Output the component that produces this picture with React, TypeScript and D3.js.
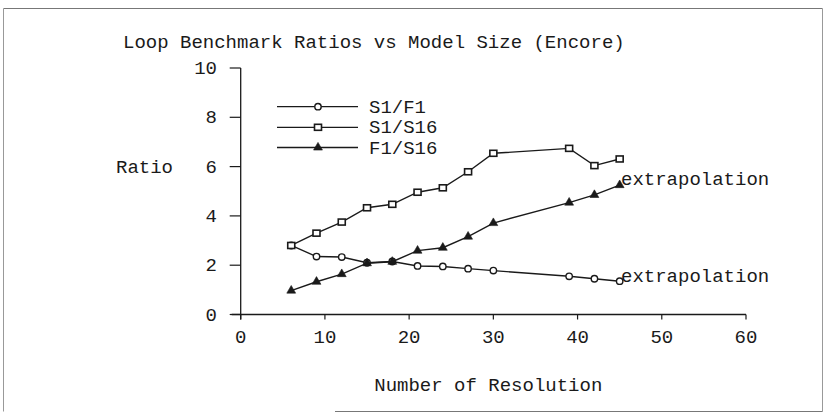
import React from "react";
import * as d3 from "d3";

const xValues = [6, 9, 12, 15, 18, 21, 24, 27, 30, 39, 42, 45];
const s1f1 = [2.8, 2.35, 2.33, 2.1, 2.15, 1.97, 1.95, 1.86, 1.78, 1.55, 1.45, 1.35];
const s1s16 = [2.8, 3.3, 3.75, 4.33, 4.47, 4.96, 5.14, 5.79, 6.54, 6.74, 6.04, 6.31];
const f1s16 = [0.97, 1.33, 1.64, 2.08, 2.14, 2.59, 2.71, 3.16, 3.71, 4.54, 4.85, 5.25];
const seriesNames = ["S1/F1", "S1/S16", "F1/S16"];
const xTicks = [0, 10, 20, 30, 40, 50, 60];
const yTicks = [0, 2, 4, 6, 8, 10];
const title = "Loop Benchmark Ratios vs Model Size (Encore)";
const xTitle = "Number of Resolution";
const yTitle = "Ratio";
const annotation = "extrapolation";

const W = 827;
const H = 415;
const FONT = "'Liberation Mono', 'Courier New', monospace";
const INK = "#1a1a1a";

function Marker({ kind, x, y }: { kind: string; x: number; y: number }) {
  if (kind === "circle") {
    return <circle cx={x} cy={y} r={3.2} fill="#fff" stroke={INK} strokeWidth={1.4} />;
  }
  if (kind === "square") {
    return <rect x={x - 3.5} y={y - 3} width={7} height={6} fill="#fff" stroke={INK} strokeWidth={1.6} />;
  }
  const p = d3.symbol().type(d3.symbolTriangle).size(34)();
  return <path d={p || ""} transform={`translate(${x},${y})`} fill={INK} stroke={INK} strokeWidth={0.6} />;
}

export default function App() {
  const x = d3.scaleLinear().domain([0, 60]).range([240.7, 746]);
  const y = d3.scaleLinear().domain([0, 10]).range([314.5, 68]);
  const line = d3
    .line<[number, number]>()
    .x((d) => x(d[0]))
    .y((d) => y(d[1]));

  const series = [
    { name: seriesNames[0], values: s1f1, kind: "circle" },
    { name: seriesNames[1], values: s1s16, kind: "square" },
    { name: seriesNames[2], values: f1s16, kind: "triangle" },
  ];

  const legendY = [106.7, 127.3, 147.5];

  return (
    <svg
      width={W}
      height={H}
      style={{ position: "absolute", left: 0, top: 0, background: "#fff" }}
      fontFamily={FONT}
    >
      <rect x={0} y={0} width={W} height={H} fill="#fff" />
      {/* frame */}
      <line x1={3.5} y1={8.5} x2={822.5} y2={8.5} stroke="#777" strokeWidth={1} />
      <line x1={3.5} y1={8.5} x2={3.5} y2={411.5} stroke="#999" strokeWidth={1} />
      <line x1={822.5} y1={8.5} x2={822.5} y2={411.5} stroke="#999" strokeWidth={1} />
      <line x1={335} y1={411.5} x2={822.5} y2={411.5} stroke="#777" strokeWidth={1} />

      {/* title */}
      <text x={123} y={48} fontSize={19} fill={INK}>
        {title}
      </text>

      {/* axes */}
      <line x1={x(0)} y1={y(10)} x2={x(0)} y2={y(0) + 5} stroke={INK} strokeWidth={1.3} />
      <line x1={x(0) - 9} y1={y(0)} x2={x(60)} y2={y(0)} stroke={INK} strokeWidth={1.3} />
      {yTicks.map((t) => (
        <g key={"y" + t}>
          <line x1={x(0) - 11} y1={y(t)} x2={x(0)} y2={y(t)} stroke={INK} strokeWidth={1.2} />
          <text x={217} y={y(t) + 6} fontSize={19} textAnchor="end" fill={INK}>
            {t}
          </text>
        </g>
      ))}
      {xTicks.map((t) => (
        <g key={"x" + t}>
          <line x1={x(t)} y1={y(0)} x2={x(t)} y2={y(0) + 5} stroke={INK} strokeWidth={1.2} />
          <text x={x(t)} y={343} fontSize={19} textAnchor="middle" fill={INK}>
            {t}
          </text>
        </g>
      ))}

      <text x={x(29.4)} y={391} fontSize={19} textAnchor="middle" fill={INK}>
        {xTitle}
      </text>
      <text x={116} y={173} fontSize={19} fill={INK}>
        {yTitle}
      </text>

      {/* series */}
      {series.map((s) => {
        const pts = xValues.map((xv, i) => [xv, s.values[i]] as [number, number]);
        return (
          <g key={s.name}>
            <path d={line(pts) || ""} fill="none" stroke={INK} strokeWidth={1.4} />
            {pts.map((p, i) => (
              <Marker key={i} kind={s.kind} x={x(p[0])} y={y(p[1])} />
            ))}
          </g>
        );
      })}

      {/* legend */}
      {series.map((s, i) => (
        <g key={"lg" + s.name}>
          <line x1={277} y1={legendY[i]} x2={358} y2={legendY[i]} stroke={INK} strokeWidth={1.3} />
          <Marker kind={s.kind} x={318} y={legendY[i]} />
          <text x={369} y={legendY[i] + 6} fontSize={19} fill={INK}>
            {s.name}
          </text>
        </g>
      ))}

      {/* annotations */}
      <text x={621} y={185} fontSize={19} fill={INK}>
        {annotation}
      </text>
      <text x={621} y={282} fontSize={19} fill={INK}>
        {annotation}
      </text>
    </svg>
  );
}
